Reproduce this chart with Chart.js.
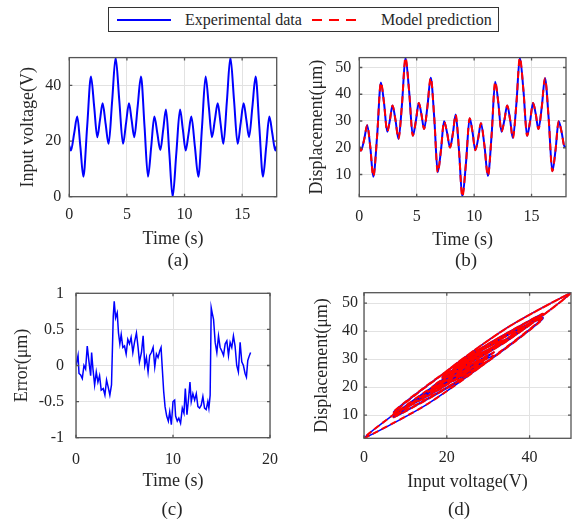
<!DOCTYPE html>
<html>
<head>
<meta charset="utf-8">
<script src="https://cdn.jsdelivr.net/npm/chart.js@4.4.1/dist/chart.umd.min.js"></script>
<style>
    body { margin: 0; background: #fff; }
    #wrap { position: relative; width: 581px; height: 519px; font-family: 'Liberation Serif', 'Times New Roman', serif; color: #262626; }
    canvas { position: absolute; }
    .lbl { position: absolute; font-size: 19px; transform: translate(-50%, -50%); white-space: nowrap; }
    #legend { position: absolute; left: 108px; top: 7px; width: 391px; height: 25px; box-sizing: border-box; border: 1px solid #333; background: #fff; }
    #legend span { position: absolute; top: 1px; font-size: 16px; line-height: 21px; white-space: nowrap; }
</style>
</head>
<body>
<div id="wrap">
    <canvas id="chartA"></canvas>
    <canvas id="chartB"></canvas>
    <canvas id="chartC"></canvas>
    <canvas id="chartD"></canvas>
    <div id="legend">
        <svg width="389" height="23" style="position:absolute;left:0;top:0">
            <line x1="8" y1="12" x2="62" y2="12" stroke="#0000ff" stroke-width="2"/>
            <line x1="203" y1="12" x2="252" y2="12" stroke="#ff0000" stroke-width="2" stroke-dasharray="10,7"/>
        </svg>
        <span style="left:76px">Experimental data</span>
        <span style="left:272px">Model prediction</span>
    </div>
    <div class="lbl" style="left:178px;top:260px">(a)</div>
    <div class="lbl" style="left:466px;top:260px">(b)</div>
    <div class="lbl" style="left:172px;top:509px">(c)</div>
    <div class="lbl" style="left:459px;top:509px">(d)</div>
</div>
<script>
// time samples (s) read at peaks, troughs and mid-ramps of the input signal
var time = [0, 0.14, 0.42, 0.69, 0.96, 1.22, 1.55, 1.88, 2.16, 2.43, 2.66, 2.89, 3.15, 3.41, 3.72, 4.02,
    4.34, 4.66, 4.92, 5.18, 5.41, 5.64, 5.93, 6.22, 6.53, 6.83, 7.11, 7.38, 7.64, 7.9, 8.15, 8.39, 8.68,
    8.97, 9.29, 9.61, 9.86, 10.1, 10.35, 10.59, 10.9, 11.2, 11.52, 11.83, 12.11, 12.38, 12.63, 12.88,
    13.13, 13.37, 13.68, 13.98, 14.3, 14.61, 14.87, 15.13, 15.37, 15.6, 15.89, 16.17, 16.49, 16.81,
    17.09, 17.36, 17.62, 17.88, 18];
// input voltage (V)
var voltage = [18.3, 16.6, 22.7, 28.8, 18.0, 7.2, 25.2, 43.2, 32.3, 21.4, 27.5, 33.6, 26.3, 19.0, 34.5, 50.0,
    34.5, 19.0, 26.3, 33.6, 27.5, 21.4, 32.3, 43.2, 25.2, 7.2, 18.0, 28.8, 22.8, 16.8, 24.1, 31.3, 15.7,
    0.0, 15.7, 31.3, 24.0, 16.6, 22.7, 28.8, 18.0, 7.2, 25.2, 43.2, 32.3, 21.4, 27.5, 33.6,
    26.3, 19.0, 34.5, 50.0, 34.5, 19.0, 26.3, 33.6, 27.5, 21.4, 32.3, 43.2, 25.2, 7.2,
    18.0, 28.8, 22.7, 16.6, 18.3];
// measured displacement (um)
var displacement = [20.4, 18.9, 23.0, 28.4, 20.1, 9.2, 24.3, 44.4, 36.5, 26.0, 30.2, 35.8, 30.4, 23.3, 36.4, 53.7,
    41.1, 24.5, 29.8, 36.7, 32.5, 27.0, 35.3, 46.2, 31.0, 10.8, 19.0, 29.9, 25.7, 20.1, 25.4, 32.4, 19.2,
    1.7, 14.3, 31.0, 25.9, 19.1, 23.4, 29.2, 20.7, 9.5, 24.6, 44.7, 36.7, 26.0, 30.2, 35.8,
    30.6, 23.6, 36.5, 53.7, 41.1, 24.5, 29.8, 36.7, 32.5, 27.0, 35.2, 46.0, 31.0, 11.2,
    19.2, 29.9, 25.8, 20.3, 20.4];
// model prediction overlaps the measurement at this scale
var modelDisp = displacement.slice();

// error signal (um)
var errTime = [0, 0.21, 0.31, 0.48, 0.65, 0.82, 0.99, 1.16, 1.34, 1.51, 1.61, 1.75, 1.92, 2.09, 2.26, 2.43,
    2.6, 2.81, 2.98, 3.15, 3.32, 3.49, 3.66, 3.84, 3.94, 4.08, 4.25, 4.38, 4.52, 4.66, 4.83, 5.0, 5.17,
    5.34, 5.51, 5.68, 5.86, 6.03, 6.23, 6.4, 6.54, 6.75, 6.92, 7.09, 7.26, 7.43, 7.6, 7.77, 7.95, 8.12,
    8.29, 8.46, 8.63, 8.77, 8.9, 9.04, 9.18, 9.35, 9.52, 9.66, 9.83, 10.0, 10.17, 10.27, 10.44, 10.6,
    10.78, 10.96, 11.13, 11.27, 11.44, 11.61, 11.75, 11.88, 12.05, 12.23, 12.4, 12.57, 12.74, 12.91,
    13.08, 13.25, 13.42, 13.59, 13.7, 13.83, 13.94, 14.04, 14.18, 14.35, 14.52, 14.69, 14.86, 15.03,
    15.21, 15.38, 15.55, 15.72, 15.89, 16.06, 16.23, 16.4, 16.57, 16.74, 16.92, 17.09, 17.26, 17.43,
    17.57, 17.71, 17.88, 18.0];
var errValue = [0, 0.14, -0.11, -0.13, -0.18, 0, -0.05, 0.27, 0.05, -0.14, 0.18, -0.05, -0.27, -0.09, -0.23,
    -0.14, -0.34, -0.32, -0.41, -0.2, -0.3, -0.41, -0.27, 0.68, 0.89, 0.66, 0.73, 0.45, 0.3, 0.43, 0.25,
    0.27, 0.16, 0.36, 0.3, 0.39, 0.18, 0.32, 0.45, 0.25, 0.05, 0.18, 0.41, 0, 0.11, -0.09, 0.14, 0.18,
    0.25, -0.02, 0.16, 0.11, 0.2, 0.25, -0.05, -0.36, -0.57, -0.7, -0.77, -0.64, -0.82, -0.5, -0.48,
    -0.7, -0.77, -0.73, -0.8, -0.59, -0.66, -0.32, -0.68, -0.45, -0.23, -0.5, -0.39, -0.48, -0.39, -0.57,
    -0.59, -0.55, -0.43, -0.59, -0.61, -0.5, -0.59, -0.41, 0.8, 0.73, 0.64, 0.32, 0.18, 0.41, 0.25, 0.2,
    0.14, 0.3, 0.34, 0.14, 0.32, 0.25, 0.41, 0.27, 0, -0.09, 0.32, 0.05, 0, -0.11, -0.16, 0.07, 0.14, 0.18];

var serif = "'Liberation Serif', 'Times New Roman', serif";
var ink = '#262626';

function pairs(xs, ys) {
    var out = [];
    for (var i = 0; i < xs.length; i++) {
        out.push({x: xs[i], y: ys[i]});
    }
    return out;
}

function plain(value) {
    return String(value);
}

// box outline plus inward tick marks, matlab style
var frame = {
    id: 'frame',
    afterDraw: function (chart) {
        var ctx = chart.ctx, a = chart.chartArea, sx = chart.scales.x, sy = chart.scales.y;
        ctx.save();
        ctx.strokeStyle = '#555';
        ctx.lineWidth = 1.3;
        ctx.beginPath();
        sx.ticks.forEach(function (t) {
            var px = sx.getPixelForValue(t.value);
            ctx.moveTo(px, a.bottom); ctx.lineTo(px, a.bottom - 3);
            ctx.moveTo(px, a.top); ctx.lineTo(px, a.top + 3);
        });
        sy.ticks.forEach(function (t) {
            var py = sy.getPixelForValue(t.value);
            ctx.moveTo(a.left, py); ctx.lineTo(a.left + 3, py);
            ctx.moveTo(a.right, py); ctx.lineTo(a.right - 3, py);
        });
        ctx.stroke();
        ctx.strokeRect(a.left, a.top, a.right - a.left, a.bottom - a.top);
        ctx.restore();
    }
};

function makeChart(id, p, datasets) {
    var cv = document.getElementById(id);
    cv.width = p.w;
    cv.height = p.h;
    cv.style.left = p.left + 'px';
    cv.style.top = p.top + 'px';
    var yw = p.l - p.left;
    var xh = p.xTitleY + 10.8 - p.b;
    return new Chart(cv, {
        type: 'line',
        data: {datasets: datasets},
        options: {
            responsive: false,
            animation: false,
            events: [],
            layout: {padding: {left: 0, top: p.t - p.top, right: p.left + p.w - p.r, bottom: p.top + p.h - p.b - xh}},
            plugins: {legend: {display: false}, tooltip: {enabled: false}},
            elements: {point: {radius: 0}},
            scales: {
                x: {
                    type: 'linear', min: p.x[0], max: p.x[1],
                    afterFit: function (s) { s.height = xh; },
                    ticks: {stepSize: p.x[2], includeBounds: false, padding: p.padX, maxRotation: 0, color: ink, font: {family: serif, size: 16}, callback: plain},
                    grid: {color: '#e2e2e2', drawTicks: false},
                    border: {display: false},
                    title: {display: true, text: p.xTitle, color: ink, font: {family: serif, size: 18}, padding: 0}
                },
                y: {
                    type: 'linear', min: p.y[0], max: p.y[1],
                    afterFit: function (s) { s.width = yw; },
                    ticks: {stepSize: p.y[2], includeBounds: false, padding: p.padY, color: ink, font: {family: serif, size: 16}, callback: plain},
                    grid: {color: '#e2e2e2', drawTicks: false},
                    border: {display: false},
                    title: {display: true, text: p.yTitle, color: ink, font: {family: serif, size: 18}, padding: {top: p.yTitleX - p.left - 10.8, bottom: 0}}
                }
            }
        },
        plugins: [frame]
    });
}

makeChart('chartA', {
    left: 0, top: 40, w: 290, h: 215, l: 69.3, t: 50.7, r: 276.7, b: 196.7,
    xTitleY: 239, yTitleX: 28, padX: 8, padY: 8,
    x: [0, 18, 5], y: [0, 50, 20], xTitle: 'Time (s)', yTitle: 'Input voltage(V)'
}, [{
    data: pairs(time, voltage), borderColor: '#0000ff', borderWidth: 2, cubicInterpolationMode: 'monotone'
}]);

// the first dataset is painted last, so the red model goes first to sit on top
makeChart('chartB', {
    left: 290, top: 40, w: 291, h: 215, l: 359.3, t: 50.7, r: 566, b: 196.7,
    xTitleY: 240, yTitleX: 317, padX: 10, padY: 8,
    x: [0, 18, 5], y: [1.7, 53.7, 10], xTitle: 'Time (s)', yTitle: 'Displacement(\u03bcm)'
}, [{
    data: pairs(time, modelDisp), borderColor: '#ff0000', borderWidth: 2, borderDash: [7, 5], cubicInterpolationMode: 'monotone'
}, {
    data: pairs(time, displacement), borderColor: '#0000ff', borderWidth: 2, cubicInterpolationMode: 'monotone'
}]);

makeChart('chartC', {
    left: 0, top: 270, w: 290, h: 249, l: 76, t: 293.3, r: 270.7, b: 437.7,
    xTitleY: 481.5, yTitleX: 22, padX: 12, padY: 12,
    x: [0, 20, 10], y: [-1, 1, 0.5], xTitle: 'Time (s)', yTitle: 'Error(\u03bcm)'
}, [{
    data: pairs(errTime, errValue), borderColor: '#0000ff', borderWidth: 1.5, tension: 0
}]);

makeChart('chartD', {
    left: 290, top: 270, w: 291, h: 249, l: 364, t: 292.7, r: 571, b: 438.3,
    xTitleY: 482, yTitleX: 322, padX: 10, padY: 6,
    x: [0, 50, 20], y: [1.7, 53.7, 10], xTitle: 'Input voltage(V)', yTitle: 'Displacement(\u03bcm)'
}, [{
    data: pairs(voltage, modelDisp), borderColor: '#ff0000', borderWidth: 2, borderDash: [6, 4], tension: 0.3
}, {
    data: pairs(voltage, displacement), borderColor: '#0000ff', borderWidth: 1.5, tension: 0.3
}]);
</script>
</body>
</html>
